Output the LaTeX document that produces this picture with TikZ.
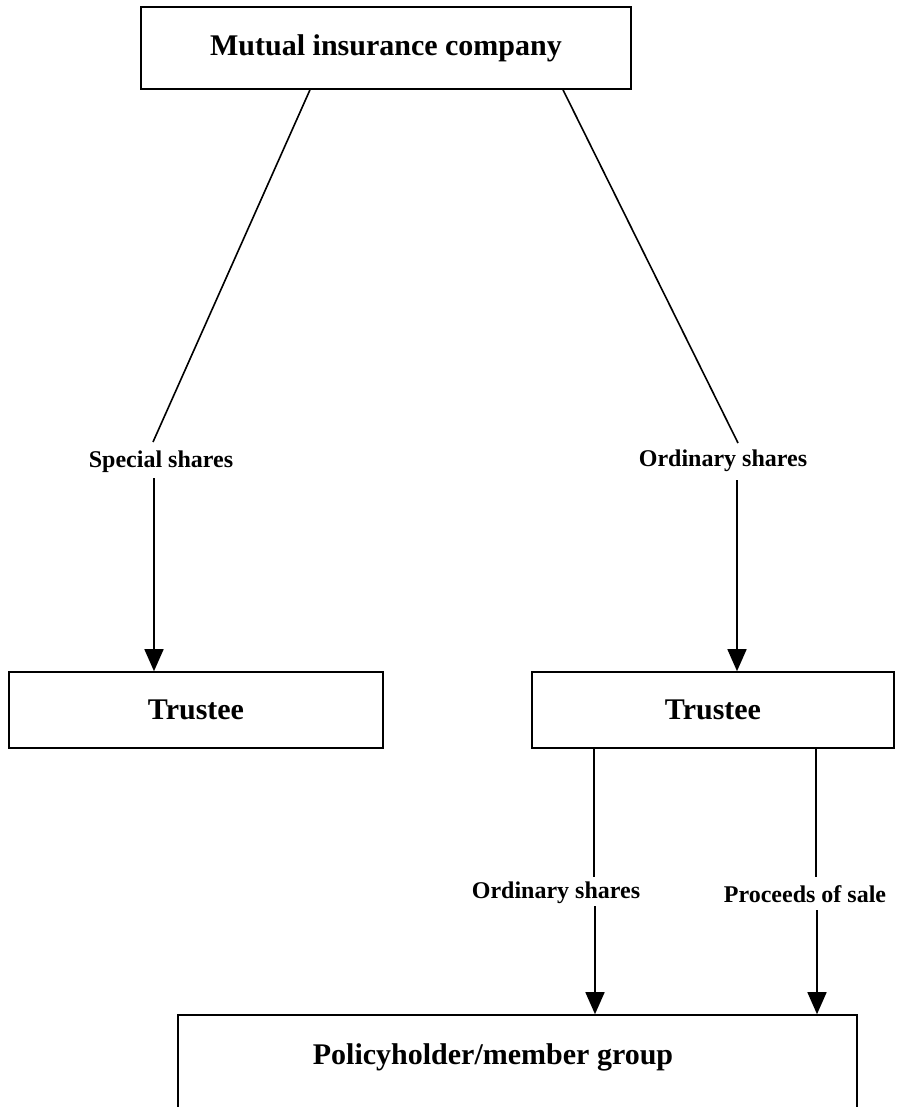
\documentclass[tikz,border=0pt]{standalone}
\usepackage{fontspec}
\setmainfont{Liberation Serif}
\usetikzlibrary{arrows.meta}

\tikzset{
  box/.style={draw, line width=1.6pt, rectangle, inner sep=0pt,
              font=\fontsize{30}{36}\selectfont\bfseries},
  flowlabel/.style={inner sep=0pt, font=\fontsize{24}{28}\selectfont\bfseries},
  conn/.style={line width=1.6pt},
  arr/.style={conn, -{Triangle[width=19pt,length=22pt]}}
}

\begin{document}
\begin{tikzpicture}[x=1pt, y=-1pt]
  \useasboundingbox (0,0) rectangle (896,1107);
  \clip (0,0) rectangle (896,1107);

  % boxes
  \node[box, minimum width=490pt, minimum height=82pt] (mic) at (386,48) {Mutual insurance company};
  \node[box, minimum width=374pt, minimum height=76pt] (t1) at (196,710) {Trustee};
  \node[box, minimum width=362pt, minimum height=76pt] (t2) at (713,710) {Trustee};
  \node[box, minimum width=679pt, minimum height=200pt] (pg) at (517.5,1115) {};
  \node[font=\fontsize{30}{36}\selectfont\bfseries, inner sep=0pt] (pgtext) at (493,1057) {Policyholder/member group};

  % flow labels
  \node[flowlabel] (sp)  at (161,462) {Special shares};
  \node[flowlabel] (os1) at (723,461) {Ordinary shares};
  \node[flowlabel] (os2) at (556,893) {Ordinary shares};
  \node[flowlabel] (ps)  at (805,894) {Proceeds of sale};

  % break points around the labels
  \coordinate (sp-top)  at (153,442);
  \coordinate (sp-bot)  at (154,478);
  \coordinate (os1-top) at (738,443);
  \coordinate (os1-bot) at (737,480);
  \coordinate (os2-top) at (594,877);
  \coordinate (os2-bot) at (595,906);
  \coordinate (ps-top)  at (816,877);
  \coordinate (ps-bot)  at (817,910);

  % company to trustees
  \draw[conn] ([xshift=-76pt]mic.south) -- (sp-top);
  \draw[arr]  (sp-bot) -- (t1.north -| sp-bot);
  \draw[conn] ([xshift=177pt]mic.south) -- (os1-top);
  \draw[arr]  (os1-bot) -- (t2.north -| os1-bot);

  % trustee to policyholders
  \draw[conn] ([xshift=-119pt]t2.south) -- (os2-top);
  \draw[arr]  (os2-bot) -- (pg.north -| os2-bot);
  \draw[conn] ([xshift=103pt]t2.south) -- (ps-top);
  \draw[arr]  (ps-bot) -- (pg.north -| ps-bot);
\end{tikzpicture}
\end{document}
